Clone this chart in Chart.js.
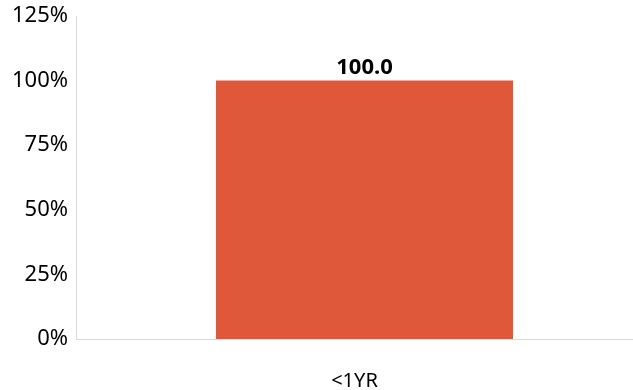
<!DOCTYPE html>
<html><head><meta charset="utf-8">
<script src="https://cdn.jsdelivr.net/npm/chart.js@4/dist/chart.umd.min.js"></script>
<style>
html,body{margin:0;padding:0;background:#fff;overflow:hidden;width:633px;height:390px;}
#wrap{width:653px;height:390px;}
</style></head>
<body><div id="wrap"><canvas id="c" width="653" height="390"></canvas></div>
<script>
const categories = ['<1YR'];
const values = [100];
const valueLabels = ['100.0'];
const yTicks = [0, 25, 50, 75, 100, 125];
const FONT = '"Noto Sans", sans-serif';

const labelPlugin = {
  id: 'vlabels',
  afterDatasetsDraw(chart) {
    const ctx = chart.ctx;
    const meta = chart.getDatasetMeta(0);
    ctx.save();
    ctx.font = 'bold 22px ' + FONT;
    ctx.fillStyle = '#000';
    ctx.textAlign = 'center';
    ctx.textBaseline = 'alphabetic';
    meta.data.forEach((bar, i) => {
      ctx.fillText(valueLabels[i], bar.x, bar.y - 7);
    });
    ctx.restore();
  }
};

new Chart(document.getElementById('c'), {
  type: 'bar',
  data: {
    labels: categories,
    datasets: [{
      data: values,
      backgroundColor: '#E0583A',
      borderWidth: 0,
      categoryPercentage: 1,
      barPercentage: 0.515
    }]
  },
  options: {
    responsive: false,
    animation: false,
    layout: { padding: { top: 0, right: 0, left: 0, bottom: 0 } },
    plugins: { legend: { display: false }, tooltip: { enabled: false } },
    scales: {
      x: {
        afterFit(axis) { axis.height = 51; },
        grid: { display: false, drawTicks: false },
        border: { color: '#d9d9d9', width: 1 },
        ticks: { color: '#000', font: { family: FONT, size: 20 }, padding: 30, labelOffset: -10 }
      },
      y: {
        min: 0, max: 125,
        afterFit(axis) { axis.width = 76; axis.paddingTop = 16; },
        afterBuildTicks(axis) { axis.ticks = yTicks.map(v => ({ value: v })); },
        grid: { display: false, drawTicks: false },
        border: { color: '#d9d9d9', width: 1 },
        ticks: { color: '#000', font: { family: FONT, size: 22 }, padding: 8,
          callback: v => v + '%' }
      }
    }
  },
  plugins: [labelPlugin]
});
</script></body></html>
